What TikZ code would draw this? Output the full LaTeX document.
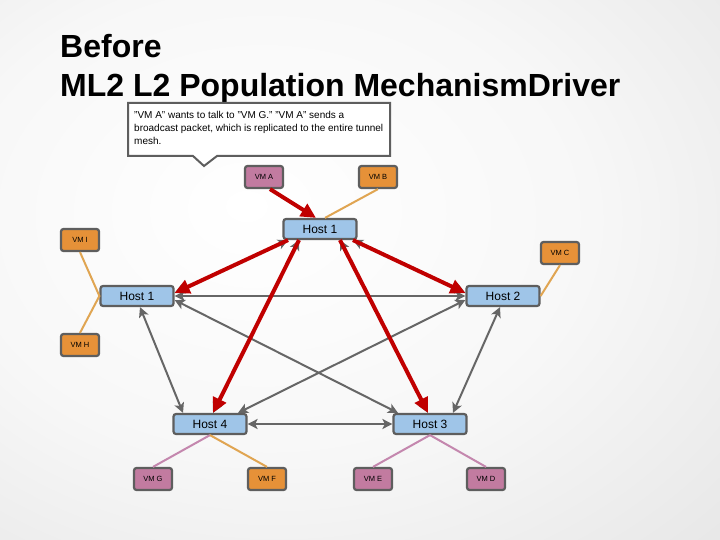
\documentclass[tikz,border=0pt]{standalone}
\usepackage{fontspec}
\setmainfont{Liberation Sans}
\usetikzlibrary{arrows.meta}
\definecolor{hostblue}{HTML}{9FC5E8}
\definecolor{vmpink}{HTML}{C27BA0}
\definecolor{vmorange}{HTML}{E69138}
\definecolor{boxgray}{HTML}{5E5E5E}
\definecolor{meshgray}{HTML}{666666}
\definecolor{pushred}{HTML}{C00000}
\definecolor{linkorange}{HTML}{E0A552}
\definecolor{linkpink}{HTML}{C487AE}
\pgfdeclareradialshading{slidebg}{\pgfpoint{-8bp}{6bp}}{color(0bp)=(white); color(22bp)=(white!97!black); color(50bp)=(white!88!black); color(72bp)=(white!76!black); color(100bp)=(white!76!black)}
\tikzset{
	box/.style={draw=boxgray, line width=2.2pt, rounded corners=2.5pt, inner sep=0pt},
	host/.style={box, fill=hostblue, minimum width=73pt, minimum height=20pt, font=\fontsize{12}{12}\selectfont},
	vmp/.style={box, fill=vmpink, minimum width=38pt, minimum height=22pt, font=\fontsize{7.5}{8}\selectfont},
	vmo/.style={vmp, fill=vmorange},
	mesh/.style={{Stealth[length=10pt,width=10pt,inset=2.5pt]}-{Stealth[length=10pt,width=10pt,inset=2.5pt]}, meshgray, line width=2pt},
	push/.style={-{Triangle[length=15pt,width=14pt]}, pushred, line width=4pt},
	olink/.style={linkorange, line width=2pt},
	plink/.style={linkpink, line width=2pt}
}
\begin{document}
\begin{tikzpicture}[x=1pt,y=-1pt]
		\useasboundingbox (0,0) rectangle (720,540);
		\shade[shading=slidebg] (0,0) rectangle (720,540);
		\node[anchor=base west, inner sep=0pt, font=\fontsize{32}{38}\selectfont\bfseries] (title1) at (60,58) {Before};
		\node[anchor=base west, inner sep=0pt, font=\fontsize{32}{38}\selectfont\bfseries] (title2) at (60,97) {ML2 L2 Population MechanismDriver};
		\draw[boxgray, line width=2pt, fill=white] (128,103) -- (390,103) -- (390,156) -- (217,156) -- (204,166) -- (193,156) -- (128,156) -- cycle;
		\node[anchor=north west, align=left, inner sep=0pt, font=\fontsize{10}{13}\selectfont] (note) at (134,111)
			{"VM A" wants to talk to "VM G." "VM A" sends a\\ broadcast packet, which is replicated to the entire tunnel\\ mesh.};
		\node[host] (htop) at (320,229) {Host 1};
		\node[host] (hleft) at (137,296) {Host 1};
		\node[host] (htwo) at (503,296) {Host 2};
		\node[host] (hfour) at (210,424) {Host 4};
		\node[host] (hthree) at (430,424) {Host 3};
		\node[vmp] (vma) at (264,177) {VM A};
		\node[vmo] (vmb) at (378,177) {VM B};
		\node[vmo] (vmi) at (80,240) {VM I};
		\node[vmo] (vmc) at (560,253) {VM C};
		\node[vmo] (vmh) at (80,345) {VM H};
		\node[vmp] (vmg) at (153,479) {VM G};
		\node[vmo] (vmf) at (267,479) {VM F};
		\node[vmp] (vme) at (373,479) {VM E};
		\node[vmp] (vmd) at (486,479) {VM D};
		\draw[olink] (vmb.south) -- ([xshift=5pt]htop.north);
		\draw[olink] (vmi.south) -- (hleft.west) -- (vmh.north);
		\draw[olink] (vmc.south) -- (htwo.east);
		\draw[plink] (hfour.south) -- (vmg.north);
		\draw[olink] (hfour.south) -- (vmf.north);
		\draw[plink] (hthree.south) -- (vme.north);
		\draw[plink] (hthree.south) -- (vmd.north);
		\draw[mesh] (hleft.east) -- (htwo.west);
		\draw[mesh] ([yshift=-4pt]hleft.east) -- ([xshift=-32pt]hthree.north);
		\draw[mesh] ([xshift=3pt]hleft.south) -- ([xshift=-27pt]hfour.north);
		\draw[mesh] ([yshift=-4pt]htwo.west) -- ([xshift=28pt]hfour.north);
		\draw[mesh] ([xshift=-3pt]htwo.south) -- ([xshift=23pt]hthree.north);
		\draw[mesh] (hfour.east) -- (hthree.west);
		\draw[mesh] ([xshift=-32pt]htop.south) -- ([yshift=3pt]hleft.east);
		\draw[mesh] ([xshift=-21pt]htop.south) -- ([xshift=3pt]hfour.north);
		\draw[mesh] ([xshift=20pt]htop.south) -- ([xshift=-2pt]hthree.north);
		\draw[mesh] ([xshift=33pt]htop.south) -- ([yshift=3pt]htwo.west);
		\draw[push] ([xshift=-32pt]htop.south) -- ([yshift=3pt]hleft.east);
		\draw[push] ([xshift=-21pt]htop.south) -- ([xshift=3pt]hfour.north);
		\draw[push] ([xshift=20pt]htop.south) -- ([xshift=-2pt]hthree.north);
		\draw[push] ([xshift=33pt]htop.south) -- ([yshift=3pt]htwo.west);
		\draw[push] ([xshift=6pt]vma.south) -- ([xshift=-4pt]htop.north);
	\end{tikzpicture}
\end{document}
